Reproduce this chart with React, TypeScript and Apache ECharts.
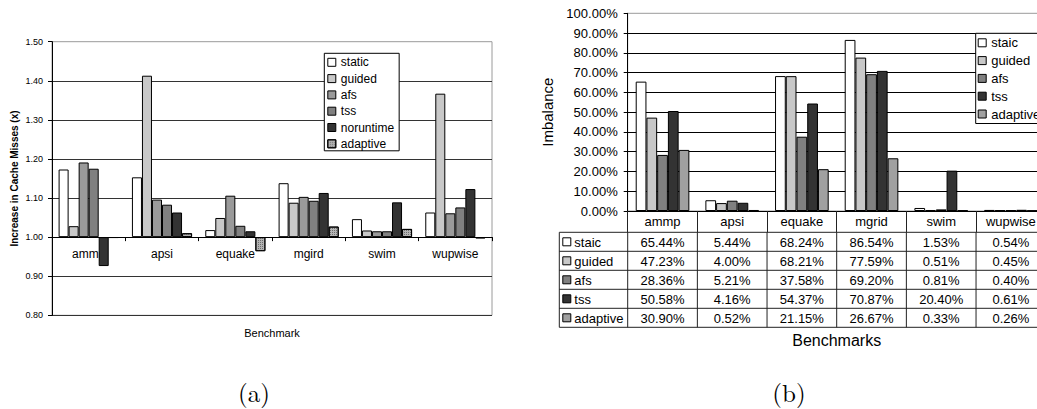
import React, { useEffect, useRef } from 'react';
import * as echarts from 'echarts';

// (a) Increase in cache misses, ratio against baseline
const missCategories = ['ammp', 'apsi', 'equake', 'mgird', 'swim', 'wupwise'];
const missStatic = [1.173, 1.153, 1.018, 1.138, 1.046, 1.063];
const missGuided = [1.028, 1.413, 1.049, 1.088, 1.017, 1.367];
const missAfs = [1.191, 1.096, 1.106, 1.103, 1.015, 1.061];
const missTss = [1.175, 1.083, 1.029, 1.093, 1.015, 1.076];
const missNoruntime = [0.926, 1.063, 1.015, 1.113, 1.089, 1.123];
const missAdaptive = [0.998, 1.01, 0.964, 1.027, 1.021, 0.997];
const missMin = 0.8;
const missMax = 1.5;
const missStep = 0.1;
const missBase = 1.0;

// (b) Imbalance in percent
const imbCategories = ['ammp', 'apsi', 'equake', 'mgrid', 'swim', 'wupwise'];
const imbStaic = [65.44, 5.44, 68.24, 86.54, 1.53, 0.54];
const imbGuided = [47.23, 4.0, 68.21, 77.59, 0.51, 0.45];
const imbAfs = [28.36, 5.21, 37.58, 69.2, 0.81, 0.4];
const imbTss = [50.58, 4.16, 54.37, 70.87, 20.4, 0.61];
const imbAdaptive = [30.9, 0.52, 21.15, 26.67, 0.33, 0.26];
const imbMin = 0;
const imbMax = 100;
const imbStep = 10;

const FONT = '"Liberation Sans", Arial, Helvetica, sans-serif';
const SERIF = '"Latin Modern Roman", "Liberation Serif", "DejaVu Serif", serif';

const hatch = {
  symbol: 'rect',
  symbolSize: 1,
  dashArrayX: [1, 1],
  dashArrayY: [1, 1],
  color: '#6e6e6e',
};

type SeriesDef = { name: string; values: number[]; color: string; decal?: any };

const missSeries: SeriesDef[] = [
  { name: 'static', values: missStatic, color: '#ffffff' },
  { name: 'guided', values: missGuided, color: '#c8c8c8' },
  { name: 'afs', values: missAfs, color: '#9a9a9a' },
  { name: 'tss', values: missTss, color: '#808080' },
  { name: 'noruntime', values: missNoruntime, color: '#333333' },
  { name: 'adaptive', values: missAdaptive, color: '#b4b4b4', decal: hatch },
];

const imbSeries: SeriesDef[] = [
  { name: 'staic', values: imbStaic, color: '#ffffff' },
  { name: 'guided', values: imbGuided, color: '#c8c8c8' },
  { name: 'afs', values: imbAfs, color: '#808080' },
  { name: 'tss', values: imbTss, color: '#333333' },
  { name: 'adaptive', values: imbAdaptive, color: '#a0a0a0' },
];

const pct = (v: number) => v.toFixed(2) + '%';

function buildOption() {
  const legendItem = (s: SeriesDef) => ({
    name: s.name,
    itemStyle: {
      color: s.color,
      borderColor: '#000',
      borderWidth: 1,
      ...(s.decal ? { decal: s.decal } : {}),
    },
  });

  return {
    animation: false,
    backgroundColor: '#ffffff',
    textStyle: { fontFamily: FONT, color: '#000' },
    grid: [
      { left: 52, top: 41.7, width: 440, height: 273.6, show: true, borderColor: '#9a9a9a', borderWidth: 1, backgroundColor: 'transparent' },
      { left: 627.7, top: 13.3, width: 418, height: 197.7, show: true, borderColor: '#9a9a9a', borderWidth: 1, backgroundColor: 'transparent' },
    ],
    xAxis: [
      {
        type: 'category',
        gridIndex: 0,
        data: missCategories,
        axisLine: { onZero: false, lineStyle: { color: '#000', width: 1 } },
        axisTick: { show: true, interval: 0, length: 4, lineStyle: { color: '#000' } },
        axisLabel: { fontSize: 12, color: '#000', margin: 11, interval: 0, fontFamily: FONT },
        splitLine: { show: false },
      },
      {
        type: 'category',
        gridIndex: 1,
        data: imbCategories,
        axisLine: { lineStyle: { color: '#000', width: 1 } },
        axisTick: { show: true, interval: 0, length: 21.3, lineStyle: { color: '#222' } },
        axisLabel: { fontSize: 13, color: '#000', margin: 4, interval: 0, fontFamily: FONT },
        splitLine: { show: false },
      },
    ],
    yAxis: [
      {
        type: 'value',
        gridIndex: 0,
        min: missMin - missBase,
        max: missMax - missBase,
        interval: missStep,
        name: 'Increase in Cache Misses (x)',
        nameLocation: 'middle',
        nameGap: 33,
        nameTextStyle: { fontSize: 10, fontWeight: 'bold', color: '#000', fontFamily: FONT },
        axisLine: { show: true, lineStyle: { color: '#000' } },
        axisTick: { show: true, length: 4, lineStyle: { color: '#000' } },
        axisLabel: {
          fontSize: 9,
          color: '#000',
          margin: 9,
          fontFamily: FONT,
          formatter: (v: number) => (v + missBase).toFixed(2),
        },
        splitLine: { show: true, showMaxLine: false, lineStyle: { color: '#333', width: 1 } },
      },
      {
        type: 'value',
        gridIndex: 1,
        min: imbMin,
        max: imbMax,
        interval: imbStep,
        name: 'Imbalance',
        nameLocation: 'middle',
        nameGap: 73,
        nameTextStyle: { fontSize: 15, color: '#000', fontFamily: FONT },
        axisLine: { show: true, lineStyle: { color: '#000' } },
        axisTick: { show: true, length: 4, lineStyle: { color: '#000' } },
        axisLabel: { fontSize: 13, color: '#000', margin: 10, fontFamily: FONT, formatter: (v: number) => pct(v) },
        splitLine: { show: true, showMaxLine: false, lineStyle: { color: '#000', width: 1 } },
      },
    ],
    legend: [
      {
        orient: 'vertical',
        left: 324.3,
        top: 53.3,
        icon: 'rect',
        itemWidth: 8,
        itemHeight: 8,
        itemGap: 4.3,
        padding: [3, 5, 1, 3],
        backgroundColor: '#fff',
        borderColor: '#000',
        borderWidth: 1,
        borderRadius: 0,
        selectedMode: false,
        textStyle: { fontSize: 12, color: '#000', fontFamily: FONT },
        data: missSeries.map(legendItem),
      },
      {
        orient: 'vertical',
        left: 975.7,
        top: 33.3,
        icon: 'rect',
        itemWidth: 8,
        itemHeight: 8,
        itemGap: 4.8,
        padding: [3, 4, 3, 2],
        backgroundColor: '#fff',
        borderColor: '#000',
        borderWidth: 1,
        borderRadius: 0,
        selectedMode: false,
        textStyle: { fontSize: 13, color: '#000', fontFamily: FONT },
        data: imbSeries.map(legendItem),
      },
    ],
    series: [
      ...imbSeries.map((s) => ({
        type: 'bar',
        name: s.name,
        xAxisIndex: 1,
        yAxisIndex: 1,
        data: s.values,
        barGap: '0%',
        barCategoryGap: '23%',
        itemStyle: { color: s.color, borderColor: '#000', borderWidth: 1 },
        emphasis: { disabled: true },
      })),
      ...missSeries.map((s) => ({
        type: 'bar',
        name: s.name,
        xAxisIndex: 0,
        yAxisIndex: 0,
        data: s.values.map((v) => +(v - missBase).toFixed(4)),
        barGap: '0%',
        barCategoryGap: '18%',
        itemStyle: { color: s.color, borderColor: '#000', borderWidth: 1, ...(s.decal ? { decal: s.decal } : {}) },
        emphasis: { disabled: true },
      })),
    ],
  };
}

function txt(x: number, y: number, text: string, size: number, opts: any = {}) {
  return {
    type: 'text',
    x,
    y,
    silent: true,
    style: {
      text,
      fill: '#000',
      fontSize: size,
      fontFamily: opts.fontFamily || FONT,
      fontWeight: opts.fontWeight || 'normal',
      textAlign: opts.align || 'center',
      align: opts.align || 'center',
      textVerticalAlign: 'middle',
      verticalAlign: 'middle',
    },
  };
}

function line(x1: number, y1: number, x2: number, y2: number, color = '#222') {
  return {
    type: 'line',
    silent: true,
    shape: { x1, y1, x2, y2 },
    style: { stroke: color, lineWidth: 1 },
  };
}

export default function App() {
  const ref = useRef<HTMLDivElement>(null);

  useEffect(() => {
    if (!ref.current) return;
    const chart = echarts.init(ref.current, null, { renderer: 'svg' });
    chart.setOption(buildOption());

    // Chart (a): category axis sits on the 1.00 baseline
    const yBaseL = chart.convertToPixel({ yAxisIndex: 0 }, 0) as unknown as number;
    const yBottomL = chart.convertToPixel({ yAxisIndex: 0 }, missMin - missBase) as unknown as number;

    // Data table under chart (b), laid out on the category axis positions
    const cx = (i: number) => chart.convertToPixel({ xAxisIndex: 1 }, i) as unknown as number;
    const n = imbCategories.length;
    const band = cx(1) - cx(0);
    const xLeft = cx(0) - band / 2;
    const xRight = cx(n - 1) + band / 2;
    const yZero = chart.convertToPixel({ yAxisIndex: 1 }, 0) as unknown as number;
    const headerH = 21.3;
    const rowH = 19;
    const keyW = 68.4;
    const tableTop = yZero + headerH;
    const tableBottom = tableTop + rowH * imbSeries.length;
    const keyLeft = xLeft - keyW;

    const elements: any[] = [];
    for (let r = 0; r <= imbSeries.length; r++) {
      const y = tableTop + r * rowH;
      elements.push(line(keyLeft, y, xRight, y));
    }
    elements.push(line(keyLeft, tableTop, keyLeft, tableBottom));
    for (let c = 0; c <= n; c++) {
      const x = xLeft + c * band;
      elements.push(line(x, tableTop, x, tableBottom));
    }
    imbSeries.forEach((s, r) => {
      const yc = tableTop + r * rowH + rowH / 2;
      elements.push({
        type: 'rect',
        silent: true,
        shape: { x: keyLeft + 3.5, y: yc - 4, width: 8, height: 8 },
        style: { fill: s.color, stroke: '#000', lineWidth: 1 },
      });
      elements.push(txt(keyLeft + 15, yc + 0.5, s.name, 13, { align: 'left' }));
      s.values.forEach((v, c) => {
        elements.push(txt(cx(c), yc + 0.5, pct(v), 13));
      });
    });

    // axis titles and panel captions
    const gl = chart.convertToPixel({ xAxisIndex: 0 }, 0) as unknown as number;
    const gr = chart.convertToPixel({ xAxisIndex: 0 }, missCategories.length - 1) as unknown as number;
    elements.push(txt((gl + gr) / 2, 332.7, 'Benchmark', 11));
    elements.push(txt((xLeft + xRight) / 2, 340, 'Benchmarks', 16));
    elements.push(txt(254, 391, '(a)', 25, { fontFamily: SERIF }));
    elements.push(txt(789, 391, '(b)', 25, { fontFamily: SERIF }));

    chart.setOption({
      xAxis: [{ offset: yBaseL - yBottomL }, {}],
      graphic: { elements },
    });

    return () => chart.dispose();
  }, []);

  return (
    <div
      style={{
        position: 'fixed',
        left: 0,
        top: 0,
        width: 1037,
        height: 409,
        overflow: 'hidden',
        background: '#fff',
      }}
    >
      <div ref={ref} style={{ width: 1046, height: 409 }} />
    </div>
  );
}
